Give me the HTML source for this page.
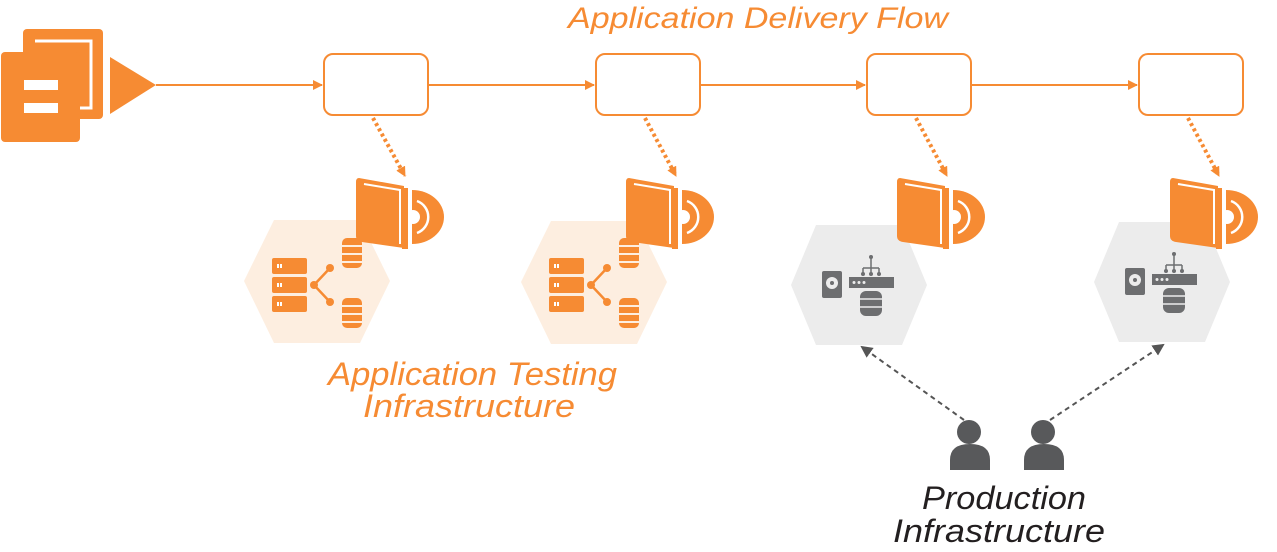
<!DOCTYPE html>
<html><head><meta charset="utf-8"><style>
html,body{margin:0;padding:0;background:#fff;}
svg{display:block;}
text{font-family:"Liberation Sans",sans-serif;font-style:italic;}
</style></head><body>
<svg width="1277" height="552" viewBox="0 0 1277 552" xmlns="http://www.w3.org/2000/svg">
<defs>
<marker id="ao" markerWidth="10" markerHeight="10" refX="9" refY="5" orient="auto" markerUnits="userSpaceOnUse"><path d="M0,0 L10,5 L0,10 Z" fill="#f68b33"/></marker>
<marker id="ag" markerWidth="12" markerHeight="12" refX="10" refY="6" orient="auto" markerUnits="userSpaceOnUse"><path d="M0,0 L12,6 L0,12 Z" fill="#555"/></marker>
<g id="book">
<path d="M56,12 A32,27 0 0 1 56,66 Z" fill="#f68b33"/>
<circle cx="57" cy="39" r="7" fill="#fff"/>
<path d="M61,23 A17,17 0 0 1 61,55" fill="none" stroke="#fff" stroke-width="2.5"/>
<path d="M3,0 L48,8 L48,70 L6,64 Q0,63 0,58 L0,4 Q0,0 3,0 Z" fill="#f68b33"/>
<path d="M8,6 L44,12 L44,66" fill="none" stroke="#fff" stroke-width="2"/>
<rect x="46" y="10" width="6" height="61" fill="#f68b33"/>
</g>
<g id="testicons" fill="#f68b33">
<rect x="-45" y="-25" width="35" height="16" rx="2"/>
<rect x="-45" y="-6" width="35" height="16" rx="2"/>
<rect x="-45" y="13" width="35" height="16" rx="2"/>
<rect x="-40" y="-19" width="2" height="4" fill="#fff"/><rect x="-37" y="-19" width="2" height="4" fill="#fff"/><rect x="-40" y="0" width="2" height="4" fill="#fff"/><rect x="-37" y="0" width="2" height="4" fill="#fff"/><rect x="-40" y="19" width="2" height="4" fill="#fff"/><rect x="-37" y="19" width="2" height="4" fill="#fff"/>
<circle cx="-3" cy="2" r="4"/><circle cx="13" cy="-15" r="4"/><circle cx="13" cy="19" r="4"/>
<path d="M-3,2 L13,-15 M-3,2 L13,19" stroke="#f68b33" stroke-width="2.5"/>
<g><rect x="25" y="-45" width="20" height="30" rx="5"/><rect x="25" y="15" width="20" height="30" rx="5"/></g>
<path d="M25,-37 H45 M25,-29 H45 M25,-21 H45 M25,23 H45 M25,31 H45 M25,39 H45" stroke="#fdeee0" stroke-width="2"/>
</g>
<g id="prodicons" fill="#6d6e70">
<rect x="-37" y="-15" width="20" height="27" rx="2"/>
<circle cx="-27" cy="-3" r="6" fill="#ececec"/><circle cx="-27" cy="-3" r="2"/>
<rect x="-10" y="-9" width="45" height="11"/>
<circle cx="-5" cy="-3.5" r="1.5" fill="#ececec"/><circle cx="0" cy="-3.5" r="1.5" fill="#ececec"/><circle cx="5" cy="-3.5" r="1.5" fill="#ececec"/>
<path d="M12,-28 V-18 M4,-18 H20 M4,-18 V-13 M12,-18 V-13 M20,-18 V-13" stroke="#6d6e70" stroke-width="1.5" fill="none"/>
<circle cx="12" cy="-29" r="2"/><circle cx="4" cy="-12" r="2"/><circle cx="12" cy="-12" r="2"/><circle cx="20" cy="-12" r="2"/>
<rect x="1" y="5" width="22" height="25" rx="6"/>
<path d="M1,13 H23 M1,21 H23" stroke="#ececec" stroke-width="1.5"/>
</g>
</defs>

<text x="568" y="28" font-size="30" fill="#f68b33" textLength="380" lengthAdjust="spacingAndGlyphs">Application Delivery Flow</text>

<rect x="23" y="29" width="80" height="90" rx="4" fill="#f68b33"/>
<path d="M35,41 H91 V108 H80" fill="none" stroke="#fff" stroke-width="3"/>
<rect x="1" y="52" width="79" height="90" rx="4" fill="#f68b33"/>
<rect x="24" y="80" width="34" height="10" fill="#fff"/>
<rect x="24" y="103" width="34" height="10" fill="#fff"/>
<path d="M110,57 L156,85 L110,114 Z" fill="#f68b33"/>

<g stroke="#f68b33" stroke-width="2" fill="none">
<line x1="156" y1="85" x2="322" y2="85" marker-end="url(#ao)"/>
<line x1="428" y1="85" x2="594" y2="85" marker-end="url(#ao)"/>
<line x1="700" y1="85" x2="865" y2="85" marker-end="url(#ao)"/>
<line x1="971" y1="85" x2="1137" y2="85" marker-end="url(#ao)"/>
<rect x="324" y="54" width="104" height="61" rx="9" fill="#fff"/>
<rect x="596" y="54" width="104" height="61" rx="9" fill="#fff"/>
<rect x="867" y="54" width="104" height="61" rx="9" fill="#fff"/>
<rect x="1139" y="54" width="104" height="61" rx="9" fill="#fff"/>
</g>

<polygon points="274,220 360,220 390,281 360,343 274,343 244,281" fill="#fdeee0"/>
<polygon points="551,221 637,221 667,282 637,344 551,344 521,282" fill="#fdeee0"/>
<polygon points="816,225 902,225 927,285 902,345 816,345 791,285" fill="#ececec"/>
<polygon points="1119,222 1205,222 1230,282 1205,342 1119,342 1094,282" fill="#ececec"/>
<use href="#testicons" x="317" y="283"/>
<use href="#testicons" x="594" y="283"/>
<use href="#prodicons" x="859" y="286"/>
<use href="#prodicons" x="1162" y="283"/>

<g stroke="#f68b33" stroke-width="4" stroke-dasharray="3,3" fill="none">
<line x1="373" y1="118" x2="405" y2="176" marker-end="url(#ao)"/>
<line x1="645" y1="118" x2="676" y2="176" marker-end="url(#ao)"/>
<line x1="916" y1="118" x2="947" y2="176" marker-end="url(#ao)"/>
<line x1="1188" y1="118" x2="1219" y2="176" marker-end="url(#ao)"/>
</g>
<use href="#book" x="356" y="178"/>
<use href="#book" x="626" y="178"/>
<use href="#book" x="897" y="178"/>
<use href="#book" x="1170" y="178"/>

<g stroke="#555" stroke-width="2" stroke-dasharray="5,4" fill="none">
<line x1="964" y1="420" x2="862" y2="347" marker-end="url(#ag)"/>
<line x1="1050" y1="420" x2="1163" y2="345" marker-end="url(#ag)"/>
</g>
<g fill="#58595b">
<circle cx="969" cy="432" r="12"/>
<path d="M950,470 V460 Q950,444 970,444 Q990,444 990,460 V470 Z"/>
<circle cx="1043" cy="432" r="12"/>
<path d="M1024,470 V460 Q1024,444 1044,444 Q1064,444 1064,460 V470 Z"/>
</g>

<text x="328" y="385" font-size="32" fill="#f68b33" textLength="289" lengthAdjust="spacingAndGlyphs">Application Testing</text>
<text x="363" y="417" font-size="32" fill="#f68b33" textLength="212" lengthAdjust="spacingAndGlyphs">Infrastructure</text>
<text x="922" y="509" font-size="32" fill="#231f20" textLength="164" lengthAdjust="spacingAndGlyphs">Production</text>
<text x="893" y="542" font-size="32" fill="#231f20" textLength="212" lengthAdjust="spacingAndGlyphs">Infrastructure</text>
</svg>
</body></html>
